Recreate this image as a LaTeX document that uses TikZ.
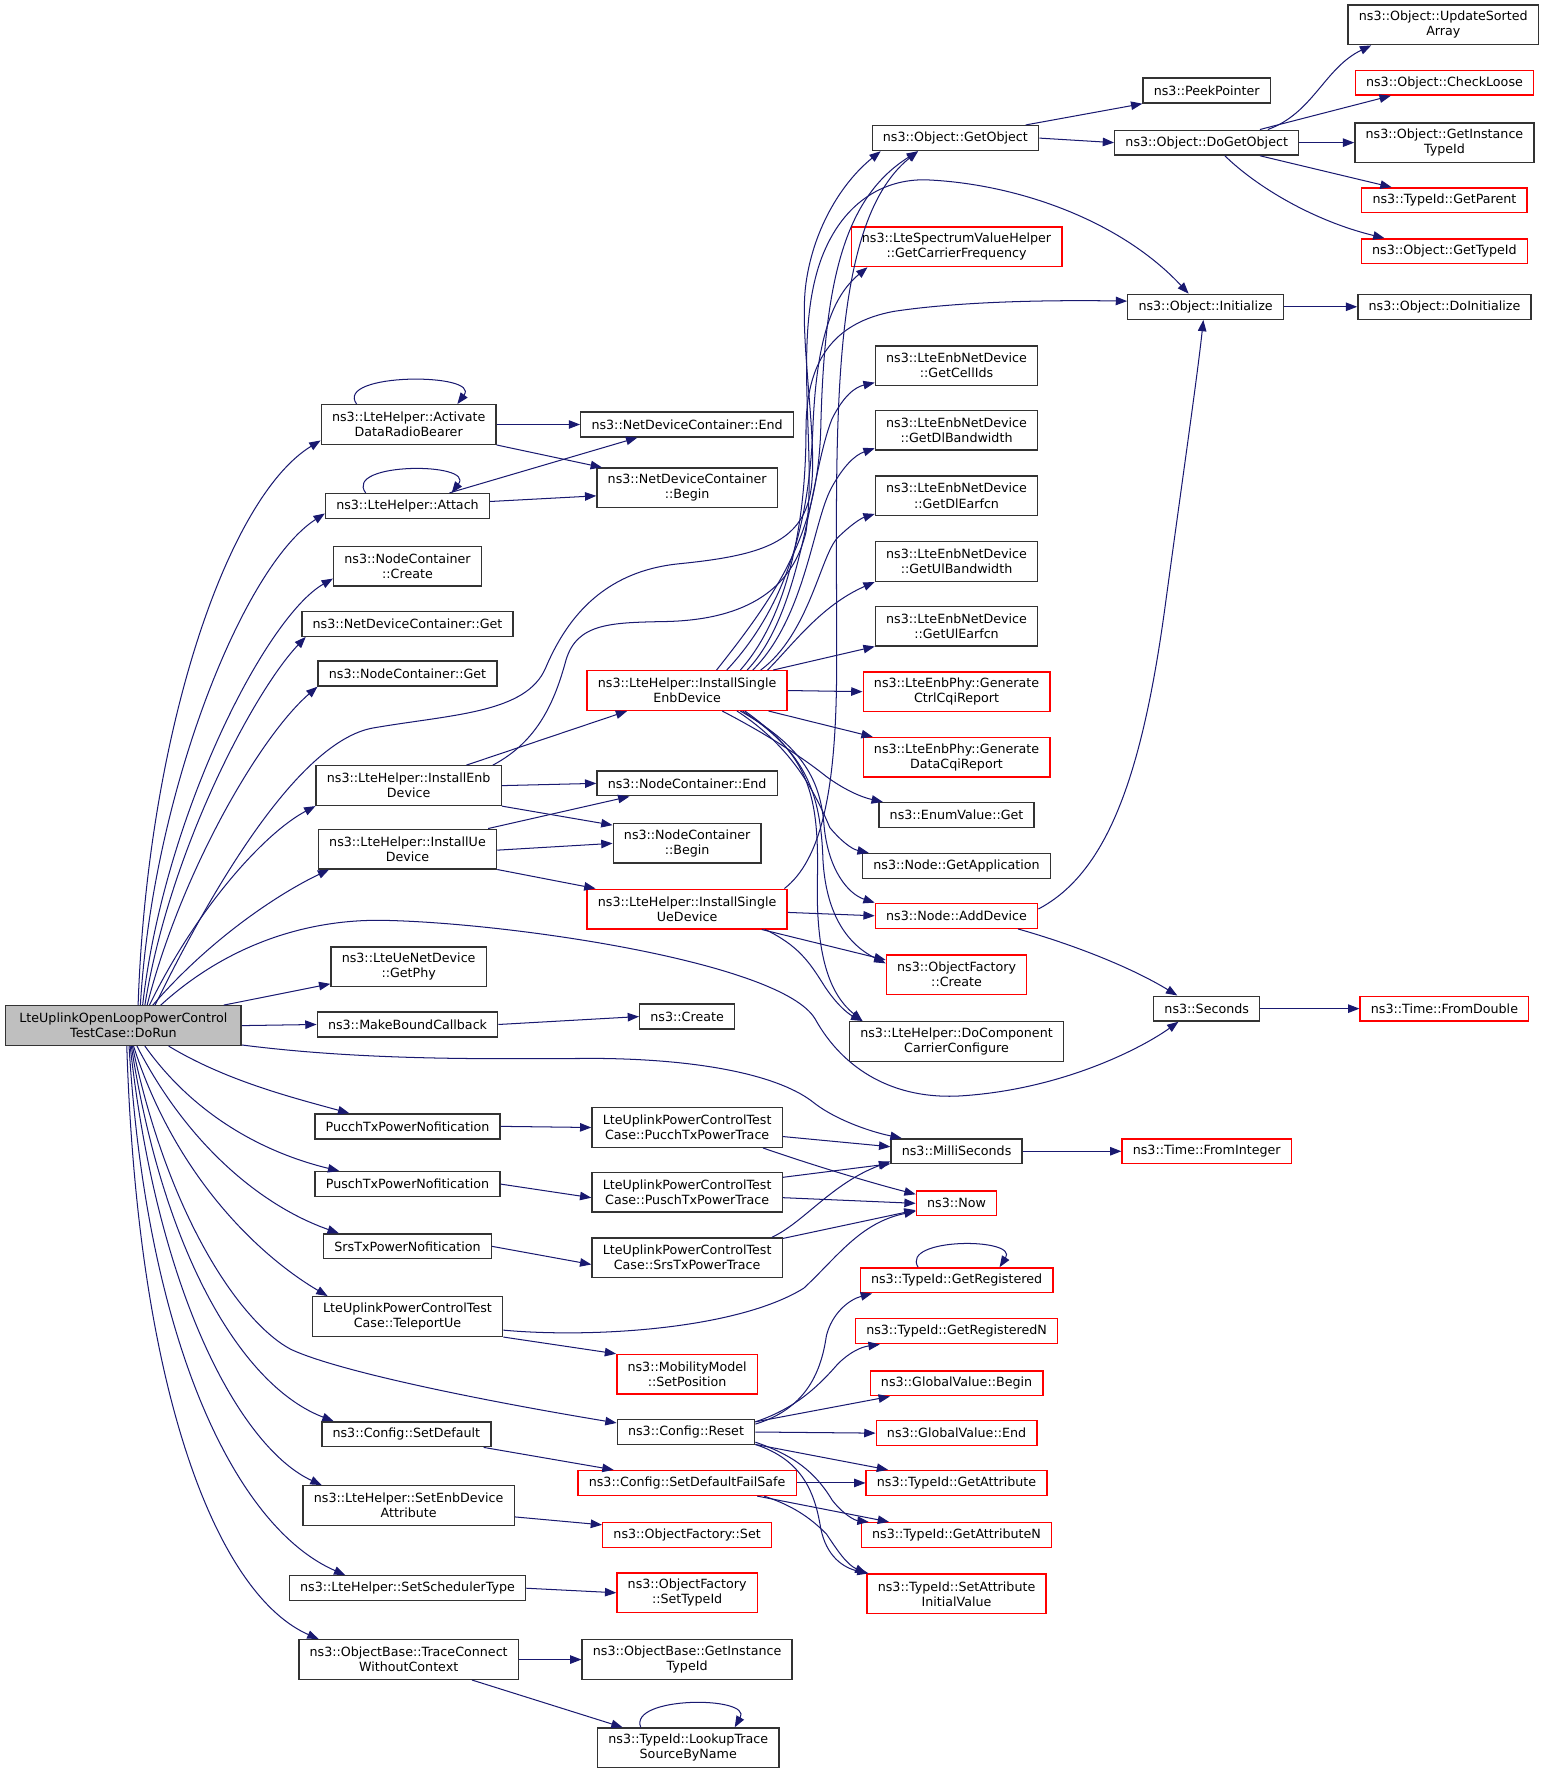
\documentclass[tikz,border=0pt]{standalone}
\usepackage{fontspec}
\setmainfont{DejaVu Sans}
\usetikzlibrary{arrows.meta}
\definecolor{navy}{RGB}{25,25,112}
\definecolor{mainfill}{RGB}{191,191,191}

\begin{document}
\begin{tikzpicture}[x=1pt,y=-1pt,>={Triangle[length=10pt,width=7.5pt]},
  fn/.style={draw=black!80,line width=1.2pt,fill=white,inner xsep=9.5pt,inner ysep=2pt,minimum height=22pt,align=center,font=\fontsize{11.2}{13.4}\selectfont},
  fntwo/.style={fn,minimum height=35pt},
  trunc/.style={draw=red},
  call/.style={->,navy,line width=0.9pt}]

\useasboundingbox (0,0) rectangle (1365,1568);

\node (dorun) at (109,906) [fntwo,fill=mainfill,minimum width=208pt] {LteUplinkOpenLoopPowerControl\\TestCase::DoRun};

\node (act) at (361,375) [fntwo] {ns3::LteHelper::Activate\\DataRadioBearer};
\node (attach) at (360,447) [fn] {ns3::LteHelper::Attach};
\node (nccreate) at (360,500) [fntwo] {ns3::NodeContainer\\::Create};
\node (ndcget) at (360,551) [fn] {ns3::NetDeviceContainer::Get};
\node (ncget) at (360,595) [fn] {ns3::NodeContainer::Get};
\node (instenb) at (361,694) [fntwo] {ns3::LteHelper::InstallEnb\\Device};
\node (instue) at (360,750) [fntwo] {ns3::LteHelper::InstallUe\\Device};
\node (getphy) at (361,854) [fntwo] {ns3::LteUeNetDevice\\::GetPhy};
\node (mkcb) at (360,905) [fn] {ns3::MakeBoundCallback};
\node (pucchnote) at (360,995) [fn] {PucchTxPowerNofitication};
\node (puschnote) at (360,1046) [fn] {PuschTxPowerNofitication};
\node (srsnote) at (360,1101) [fn] {SrsTxPowerNofitication};
\node (teleport) at (360,1163) [fntwo] {LteUplinkPowerControlTest\\Case::TeleportUe};
\node (setdef) at (359,1267) [fn] {ns3::Config::SetDefault};
\node (setenbattr) at (361,1330) [fntwo] {ns3::LteHelper::SetEnbDevice\\Attribute};
\node (setsched) at (360,1403) [fn] {ns3::LteHelper::SetSchedulerType};
\node (traceconn) at (361,1466) [fntwo] {ns3::ObjectBase::TraceConnect\\WithoutContext};

\node (ndcend) at (607,375) [fn] {ns3::NetDeviceContainer::End};
\node (ndcbegin) at (607,431) [fntwo] {ns3::NetDeviceContainer\\::Begin};
\node (instsenb) at (607,610) [fntwo,trunc] {ns3::LteHelper::InstallSingle\\EnbDevice};
\node (ncend) at (607,692) [fn] {ns3::NodeContainer::End};
\node (ncbegin) at (607,745) [fntwo] {ns3::NodeContainer\\::Begin};
\node (instsue) at (607,803) [fntwo,trunc] {ns3::LteHelper::InstallSingle\\UeDevice};
\node (create) at (607,898) [fn] {ns3::Create};
\node (pucchtrace) at (607,996) [fntwo] {LteUplinkPowerControlTest\\Case::PucchTxPowerTrace};
\node (puschtrace) at (607,1053) [fntwo] {LteUplinkPowerControlTest\\Case::PuschTxPowerTrace};
\node (srstrace) at (607,1111) [fntwo] {LteUplinkPowerControlTest\\Case::SrsTxPowerTrace};
\node (setpos) at (607,1214) [fntwo,trunc] {ns3::MobilityModel\\::SetPosition};
\node (cfgreset) at (606,1265) [fn] {ns3::Config::Reset};
\node (setdeffs) at (607,1310) [fn,trunc] {ns3::Config::SetDefaultFailSafe};
\node (ofset) at (607,1356) [fn,trunc] {ns3::ObjectFactory::Set};
\node (settypeid) at (607,1407) [fntwo,trunc] {ns3::ObjectFactory\\::SetTypeId};
\node (obgetinst) at (607,1466) [fntwo] {ns3::ObjectBase::GetInstance\\TypeId};
\node (lookup) at (608,1544) [fntwo] {ns3::TypeId::LookupTrace\\SourceByName};

\node (getobj) at (844,122) [fn] {ns3::Object::GetObject};
\node (carrier) at (845,218) [fntwo,trunc] {ns3::LteSpectrumValueHelper\\::GetCarrierFrequency};
\node (cellids) at (845,323) [fntwo] {ns3::LteEnbNetDevice\\::GetCellIds};
\node (dlbw) at (845,380) [fntwo] {ns3::LteEnbNetDevice\\::GetDlBandwidth};
\node (dlearfcn) at (845,438) [fntwo] {ns3::LteEnbNetDevice\\::GetDlEarfcn};
\node (ulbw) at (845,496) [fntwo] {ns3::LteEnbNetDevice\\::GetUlBandwidth};
\node (ulearfcn) at (845,553) [fntwo] {ns3::LteEnbNetDevice\\::GetUlEarfcn};
\node (ctrlcqi) at (845,611) [fntwo,trunc] {ns3::LteEnbPhy::Generate\\CtrlCqiReport};
\node (datacqi) at (845,669) [fntwo,trunc] {ns3::LteEnbPhy::Generate\\DataCqiReport};
\node (enumget) at (845,720) [fn] {ns3::EnumValue::Get};
\node (getapp) at (845,765) [fn] {ns3::Node::GetApplication};
\node (adddev) at (845,809) [fn,trunc] {ns3::Node::AddDevice};
\node (ofcreate) at (845,861) [fntwo,trunc] {ns3::ObjectFactory\\::Create};
\node (docc) at (845,920) [fntwo] {ns3::LteHelper::DoComponent\\CarrierConfigure};
\node (millis) at (845,1017) [fn] {ns3::MilliSeconds};
\node (now) at (845,1063) [fn,trunc] {ns3::Now};
\node (getreg) at (845,1131) [fn,trunc] {ns3::TypeId::GetRegistered};
\node (getregn) at (845,1176) [fn,trunc] {ns3::TypeId::GetRegisteredN};
\node (gvbegin) at (845,1222) [fn,trunc] {ns3::GlobalValue::Begin};
\node (gvend) at (845,1266) [fn,trunc] {ns3::GlobalValue::End};
\node (getattr) at (845,1310) [fn,trunc] {ns3::TypeId::GetAttribute};
\node (getattrn) at (845,1356) [fn,trunc] {ns3::TypeId::GetAttributeN};
\node (setattrinit) at (845,1408) [fntwo,trunc] {ns3::TypeId::SetAttribute\\InitialValue};

\node (peek) at (1066,80) [fn] {ns3::PeekPointer};
\node (dogetobj) at (1066,126) [fn] {ns3::Object::DoGetObject};
\node (init) at (1065,271) [fn] {ns3::Object::Initialize};
\node (seconds) at (1066,891) [fn] {ns3::Seconds};
\node (fromint) at (1066,1017) [fn,trunc] {ns3::Time::FromInteger};

\node (updsorted) at (1275,22) [fntwo] {ns3::Object::UpdateSorted\\Array};
\node (checkloose) at (1276,73) [fn,trunc] {ns3::Object::CheckLoose};
\node (getinsttid) at (1276,126) [fntwo] {ns3::Object::GetInstance\\TypeId};
\node (getparent) at (1276,177) [fn,trunc] {ns3::TypeId::GetParent};
\node (gettypeid) at (1276,222) [fn,trunc] {ns3::Object::GetTypeId};
\node (doinit) at (1276,271) [fn] {ns3::Object::DoInitialize};
\node (fromdouble) at (1276,891) [fn,trunc] {ns3::Time::FromDouble};

\draw[call] ([xshift=13pt]dorun.north) .. controls (130,650) and (200,440) .. ([yshift=4pt]act.south west);
\draw[call] ([xshift=15pt]dorun.north) .. controls (135,700) and (215,500) .. ([yshift=5pt]attach.south west);
\draw[call] ([xshift=17pt]dorun.north) .. controls (145,720) and (235,545) .. ([yshift=7pt]nccreate.south west);
\draw[call] ([xshift=19pt]dorun.north) .. controls (150,750) and (225,610) .. ([xshift=4pt]ndcget.south west);
\draw[call] ([xshift=21pt]dorun.north) .. controls (160,770) and (230,650) .. (ncget.south west);
\draw[call] ([xshift=23pt]dorun.north) .. controls (175,800) and (235,735) .. (instenb.south west);
\draw[call] ([xshift=26pt]dorun.north) .. controls (185,830) and (245,790) .. ([xshift=10pt]instue.south west);
\draw[call] ([xshift=28pt]dorun.north) .. controls (180,800) and (260,655) .. (330,643) .. controls (400,631) and (465,630) .. (482,590) .. controls (499,550) and (530,505) .. (600,498) .. controls (670,491) and (705,480) .. (715,440) .. controls (725,400) and (705,300) .. (712,250) .. controls (719,200) and (745,160) .. ([xshift=-66pt]getobj.south);
\draw[call] ([xshift=33pt]dorun.north) .. controls (200,835) and (270,812) .. (338,813) .. controls (450,815) and (690,850) .. (720,900) .. controls (745,945) and (790,972) .. (850,968) .. controls (940,962) and (1010,925) .. ([xshift=-25pt]seconds.south);
\draw[call] ([xshift=-16pt]dorun.north east) -- ([yshift=3pt]getphy.south west);
\draw[call] (dorun.east) -- (mkcb.west);
\draw[call] ([yshift=1pt]dorun.south east) .. controls (330,938) and (450,935) .. (530,935) .. controls (620,936) and (690,950) .. (720,975) .. controls (740,990) and (770,1000) .. ([xshift=10pt]millis.north west);
\draw[call] ([xshift=40pt]dorun.south) .. controls (200,955) and (260,970) .. ([xshift=31pt]pucchnote.north west);
\draw[call] ([xshift=19pt]dorun.south) .. controls (175,990) and (240,1020) .. ([xshift=22pt]puschnote.north west);
\draw[call] ([xshift=12pt]dorun.south) .. controls (165,1010) and (230,1065) .. ([xshift=14pt]srsnote.north west);
\draw[call] ([xshift=9pt]dorun.south) .. controls (155,1040) and (230,1110) .. ([xshift=14pt]teleport.north west);
\draw[call] ([xshift=8pt]dorun.south) .. controls (150,1080) and (215,1170) .. (257,1192) .. controls (300,1212) and (430,1238) .. ([yshift=8pt]cfgreset.west);
\draw[call] ([xshift=7pt]dorun.south) .. controls (145,1110) and (215,1225) .. ([xshift=11pt]setdef.north west);
\draw[call] ([xshift=6pt]dorun.south) .. controls (140,1150) and (215,1280) .. ([xshift=17pt]setenbattr.north west);
\draw[call] ([xshift=5pt]dorun.south) .. controls (130,1190) and (210,1350) .. ([xshift=50pt]setsched.north west);
\draw[call] ([xshift=3pt]dorun.south) .. controls (122,1240) and (195,1410) .. ([xshift=18pt]traceconn.north west);

\draw[call] ([xshift=-46pt]act.north) .. controls (295,329) and (425,329) .. ([xshift=43pt]act.north);
\draw[call] (act.east) -- (ndcend.west);
\draw[call] (act.south east) -- ([xshift=5pt]ndcbegin.north west);
\draw[call] ([xshift=-37pt]attach.north) .. controls (303,408) and (420,408) .. ([xshift=39pt]attach.north);
\draw[call] ([xshift=37pt]attach.north) -- ([xshift=-44pt]ndcend.south);
\draw[call] ([yshift=4pt]attach.east) -- ([yshift=-7pt]ndcbegin.west);
\draw[call] ([xshift=51pt]instenb.north) -- ([xshift=-53pt]instsenb.south);
\draw[call] (instenb.east) -- (ncend.west);
\draw[call] (instenb.south east) -- ([yshift=-2pt]ncbegin.north west);
\draw[call] ([xshift=-8pt]instenb.north east) .. controls (475,655) and (490,620) .. (500,583) .. controls (510,550) and (540,550) .. (590,549) .. controls (660,547) and (700,520) .. (712,470) .. controls (722,400) and (700,300) .. (725,230) .. controls (745,175) and (785,157) .. (821,159) .. controls (900,163) and (990,195) .. ([xshift=-15pt]init.north);
\draw[call] ([xshift=-8pt]instue.north east) -- ([xshift=-51pt]ncend.south);
\draw[call] ([yshift=-1pt]instue.east) -- (ncbegin.west);
\draw[call] (instue.south east) -- ([xshift=8pt]instsue.north west);
\draw[call] (mkcb.east) -- (create.west);
\draw[call] (pucchnote.east) -- (pucchtrace.west);
\draw[call] (puschnote.east) -- ([yshift=-5pt]puschtrace.west);
\draw[call] (srsnote.east) -- ([yshift=-6pt]srstrace.west);
\draw[call] ([yshift=-12pt]teleport.east) .. controls (520,1182) and (650,1175) .. (710,1138) .. controls (740,1110) and (760,1080) .. ([yshift=-7pt]now.west);
\draw[call] (teleport.south east) -- (setpos.north west);
\draw[call] ([xshift=-7pt]setdef.south east) -- ([xshift=32pt]setdeffs.north west);
\draw[call] ([yshift=-10pt]setenbattr.east) -- ([yshift=9pt]ofset.west);
\draw[call] (setsched.east) -- (settypeid.west);
\draw[call] (traceconn.east) -- (obgetinst.west);
\draw[call] ([xshift=56pt]traceconn.south) -- ([xshift=-58pt]lookup.north);
\draw[call] ([xshift=-42pt]lookup.north) .. controls (555,1498) and (665,1498) .. ([xshift=41pt]lookup.north);

\draw[call] ([xshift=26pt]instsenb.north) .. controls (690,520) and (722,470) .. (725,380) .. controls (728,250) and (745,175) .. ([xshift=-33pt]getobj.south);
\draw[call] ([xshift=35pt]instsenb.north) .. controls (700,530) and (715,450) .. (718,380) .. controls (721,300) and (735,262) .. ([xshift=15pt]carrier.south west);
\draw[call] ([xshift=47pt]instsenb.north) .. controls (700,540) and (712,450) .. (712,380) .. controls (712,320) and (735,285) .. (790,275) .. controls (850,266) and (930,265) .. ([yshift=5pt]init.west);
\draw[call] ([xshift=53pt]instsenb.north) .. controls (710,540) and (715,420) .. (735,370) .. controls (745,350) and (755,342) .. ([yshift=-15pt]cellids.west);
\draw[call] ([xshift=58pt]instsenb.north) .. controls (712,545) and (718,460) .. (735,430) .. controls (745,412) and (755,402) .. ([yshift=-16pt]dlbw.west);
\draw[call] ([xshift=65pt]instsenb.north) .. controls (715,560) and (725,490) .. (740,475) .. controls (750,465) and (760,458) .. ([yshift=-16pt]dlearfcn.west);
\draw[call] ([xshift=71pt]instsenb.north) .. controls (700,570) and (725,535) .. (ulbw.south west);
\draw[call] ([xshift=76pt]instsenb.north) -- (ulearfcn.south west);
\draw[call] (instsenb.east) -- (ctrlcqi.west);
\draw[call] ([xshift=-17pt]instsenb.south east) -- ([xshift=9pt]datacqi.north west);
\draw[call] ([xshift=31pt]instsenb.south) .. controls (680,650) and (710,670) .. (730,686) .. controls (745,697) and (760,704) .. ([xshift=4pt]enumget.north west);
\draw[call] ([xshift=44pt]instsenb.south) .. controls (700,660) and (720,700) .. (733,731) .. controls (742,742) and (752,750) .. ([xshift=6pt]getapp.north west);
\draw[call] ([xshift=47pt]instsenb.south) .. controls (710,660) and (725,690) .. (728,730) .. controls (732,770) and (750,790) .. (adddev.north west);
\draw[call] ([xshift=49pt]instsenb.south) .. controls (712,665) and (725,700) .. (727,760) .. controls (730,810) and (750,835) .. ([yshift=10pt]ofcreate.west);
\draw[call] ([xshift=51pt]instsenb.south) .. controls (714,668) and (724,700) .. (722,780) .. controls (721,850) and (735,880) .. ([xshift=12pt]docc.north west);

\draw[call] ([xshift=-3pt]instsue.north east) .. controls (725,760) and (738,700) .. (739,600) .. controls (740,400) and (728,200) .. ([xshift=-33pt]getobj.south);
\draw[call] ([yshift=-3pt]instsue.east) -- (adddev.west);
\draw[call] ([xshift=-23pt]instsue.south east) -- ([yshift=13pt]ofcreate.west);
\draw[call] ([xshift=-20pt]instsue.south east) .. controls (705,835) and (715,850) .. (727,869) .. controls (737,885) and (748,895) .. ([xshift=12pt]docc.north west);

\draw[call] ([yshift=6pt]adddev.east) .. controls (980,770) and (1010,680) .. (1030,530) .. controls (1045,420) and (1058,330) .. ([xshift=-2pt]init.south);
\draw[call] ([xshift=-18pt]adddev.south east) .. controls (950,835) and (1000,855) .. ([xshift=-26pt]seconds.north);
\draw[call] ([xshift=62pt]getobj.north) -- (peek.south west);
\draw[call] (getobj.east) -- (dogetobj.west);
\draw[call] ([xshift=54pt]dogetobj.north) .. controls (1160,100) and (1170,60) .. ([xshift=21pt]updsorted.south west);
\draw[call] ([xshift=47pt]dogetobj.north) -- ([xshift=32pt]checkloose.south west);
\draw[call] (dogetobj.east) -- (getinsttid.west);
\draw[call] ([xshift=47pt]dogetobj.south) -- ([xshift=27pt]getparent.north west);
\draw[call] ([xshift=16pt]dogetobj.south) .. controls (1110,165) and (1160,195) .. ([xshift=21pt]gettypeid.north west);
\draw[call] (init.east) -- (doinit.west);
\draw[call] (seconds.east) -- (fromdouble.west);
\draw[call] (millis.east) -- (fromint.west);

\draw[call] ([yshift=-8pt]pucchtrace.east) -- ([yshift=4pt]millis.west);
\draw[call] ([xshift=67pt]pucchtrace.south) .. controls (720,1030) and (770,1045) .. ([yshift=8pt]now.west);
\draw[call] ([yshift=13pt]puschtrace.east) -- ([yshift=-11pt]millis.west);
\draw[call] ([yshift=-5pt]puschtrace.east) -- (now.west);
\draw[call] ([xshift=75pt]srstrace.north) .. controls (710,1080) and (735,1045) .. ([yshift=-9pt]millis.west);
\draw[call] ([yshift=17pt]srstrace.east) -- ([yshift=-6pt]now.west);

\draw[call] ([yshift=7pt]cfgreset.east) .. controls (710,1245) and (725,1215) .. (730,1180) .. controls (735,1160) and (750,1148) .. ([xshift=11pt]getreg.south west);
\draw[call] ([xshift=-34pt]getreg.north) .. controls (795,1093) and (900,1093) .. ([xshift=38pt]getreg.north);
\draw[call] ([yshift=9pt]cfgreset.east) .. controls (700,1245) and (720,1228) .. (740,1205) .. controls (750,1195) and (760,1190) .. ([xshift=22pt]getregn.south west);
\draw[call] ([yshift=9pt]cfgreset.east) -- ([xshift=18pt]gvbegin.south west);
\draw[call] (cfgreset.east) -- (gvend.west);
\draw[call] ([yshift=-11pt]cfgreset.east) -- ([xshift=20pt]getattr.north west);
\draw[call] ([yshift=-9pt]cfgreset.east) .. controls (700,1285) and (720,1300) .. (735,1325) .. controls (745,1338) and (755,1343) .. ([xshift=7pt]getattrn.north west);
\draw[call] ([yshift=-11pt]cfgreset.east) .. controls (710,1290) and (720,1320) .. (725,1350) .. controls (730,1375) and (745,1385) .. ([xshift=2pt]setattrinit.north west);
\draw[call] (setdeffs.east) -- (getattr.west);
\draw[call] ([xshift=-35pt]setdeffs.south east) -- ([xshift=25pt]getattrn.north west);
\draw[call] ([xshift=-29pt]setdeffs.south east) .. controls (700,1330) and (715,1340) .. (730,1355) .. controls (740,1370) and (748,1382) .. (setattrinit.north west);
\end{tikzpicture}
\end{document}
